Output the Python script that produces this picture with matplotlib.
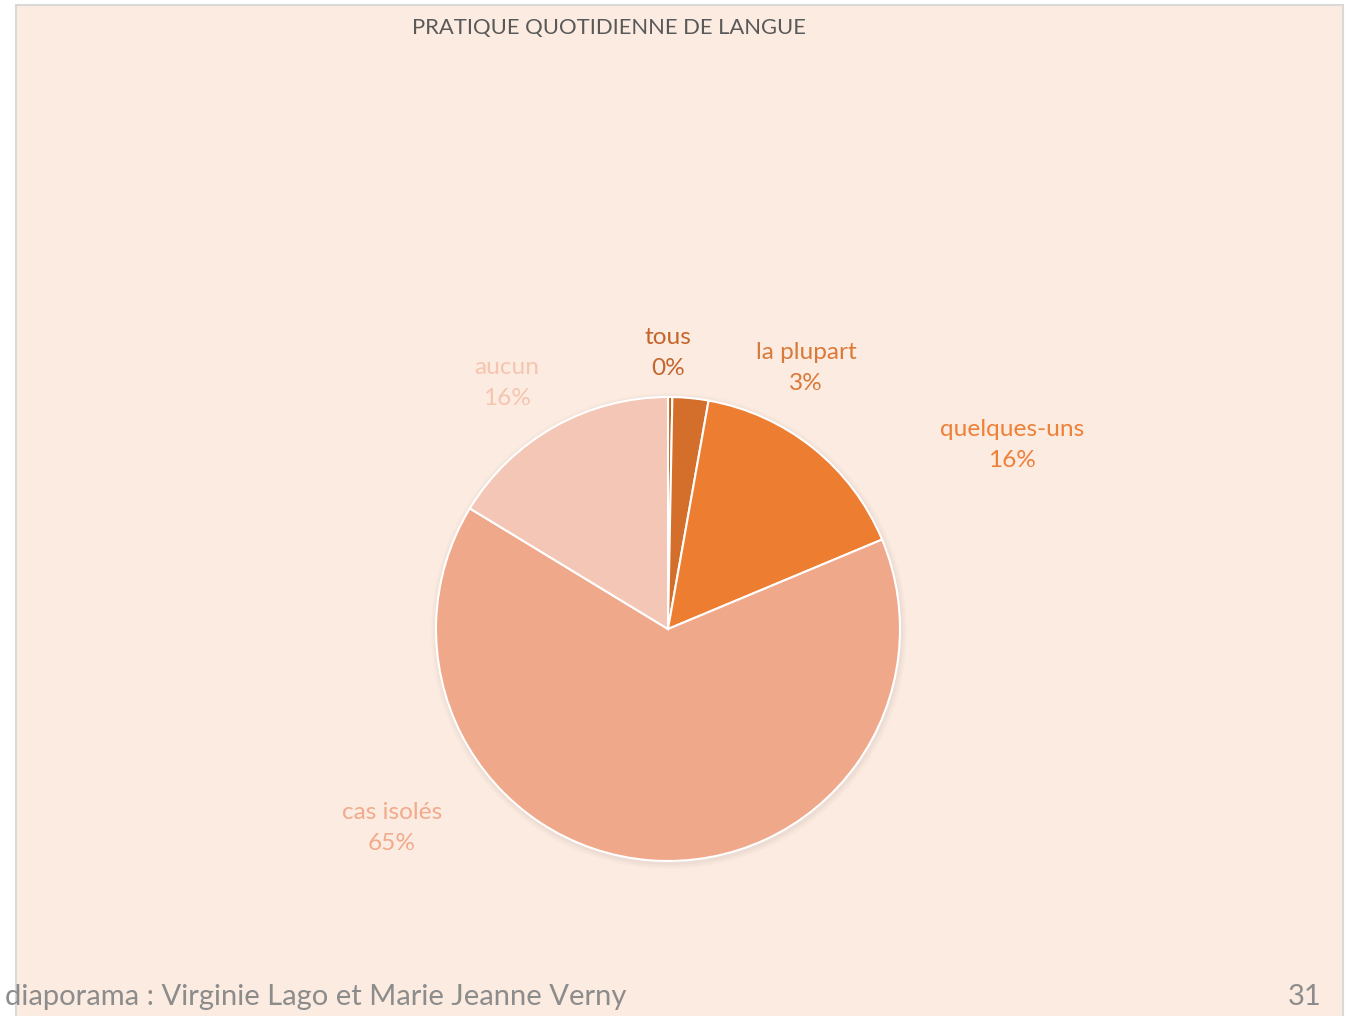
import matplotlib
matplotlib.use("Agg")
import matplotlib.pyplot as plt
from matplotlib.patches import Rectangle, Circle

# ---- data ----
categories = ["tous", "la plupart", "quelques-uns", "cas isolés", "aucun"]
values = [0.3, 2.5, 15.9, 65.0, 16.3]
title = "PRATIQUE QUOTIDIENNE DE LANGUE"
footer = "diaporama : Virginie Lago et Marie Jeanne Verny"
page_number = "31"

# ---- style / layout ----
slice_colors = ['#C0621F', '#D46E2B', '#ED7D31', '#F0A88A', '#F4C6B5']
label_colors = ['#C4652C', '#D97A3A', '#EE8038', '#F2AA8C', '#F5C5B0']
label_pos = [(668, 353), (806, 368), (1012, 445), (392, 828), (507, 383)]  # pixel, top-down
W, H = 1355, 1016
CX, CY, R = 668, 629, 232
FONT = ['Lato', 'DejaVu Sans']

plt.rcParams['font.family'] = FONT

fig = plt.figure(figsize=(W / 100, H / 100), dpi=100)
fig.patch.set_facecolor('white')
ax = fig.add_axes([0, 0, 1, 1])


def py(y):
    return H - y


def pct(v):
    return f"{int(v + 0.5)}%"


# chart area background
ax.add_patch(Rectangle((16, -5), 1327, py(5) + 5, facecolor='#FCEBE0',
                       edgecolor='#D9D9D9', linewidth=1.5, zorder=0))

# soft shadow of the pie
for k, a in [(6, 0.03), (4, 0.04), (2, 0.05)]:
    ax.add_patch(Circle((CX + 1, py(CY) - 2), R + k, facecolor='#7F7F7F',
                        edgecolor='none', alpha=a, zorder=1))

ax.pie(values, colors=slice_colors, startangle=90, counterclock=False,
       center=(CX, py(CY)), radius=R,
       wedgeprops=dict(edgecolor='white', linewidth=1.5, zorder=2))

for cat, v, col, (lx, ly) in zip(categories, values, label_colors, label_pos):
    ax.text(lx, py(ly), f"{cat}\n{pct(v)}", ha='center', va='center',
            fontsize=17.6, color=col, linespacing=1.55, zorder=5)

ax.text(609, py(28), title, ha='center', va='center', fontsize=15.8,
        color='#595959', zorder=5)
ax.text(5, py(997), footer, ha='left', va='center', fontsize=21,
        color='#8C8C8C', zorder=5)
ax.text(1322, py(997), page_number, ha='right', va='center', fontsize=21,
        color='#8C8C8C', zorder=5)

ax.set_xlim(0, W)
ax.set_ylim(0, H)
ax.set_aspect('auto')
ax.axis('off')

fig.savefig('out.png', dpi=100, facecolor='white')
